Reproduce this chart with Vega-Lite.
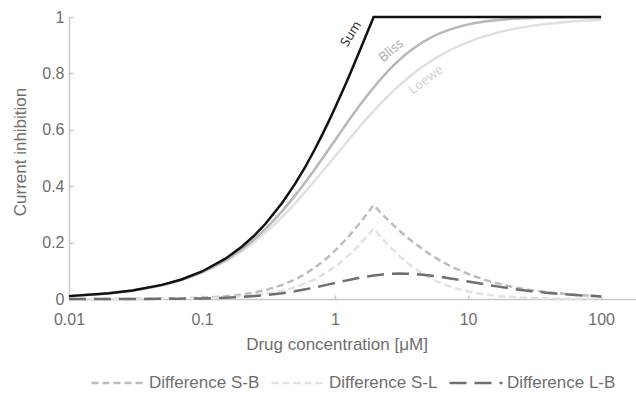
{
  "$schema": "https://vega.github.io/schema/vega-lite/v6.json",
  "width": 567,
  "height": 282,
  "autosize": {"type": "none"},
  "padding": {"left": 69, "top": 17, "right": 0, "bottom": 97},
  "background": "white",
  "config": {
    "view": {"stroke": null},
    "font": "Liberation Sans",
    "axis": {
      "domainColor": "#c8c8c8",
      "domainWidth": 1.5,
      "tickColor": "#c8c8c8",
      "tickWidth": 1.5,
      "tickSize": -4,
      "grid": false,
      "labelFlush": false,
      "labelFontSize": 16,
      "labelColor": "#6e6e6e",
      "titleFontSize": 17,
      "titleColor": "#6e6e6e",
      "titleFontWeight": "normal"
    },
    "legend": {
      "orient": "none",
      "legendX": 21,
      "legendY": 338,
      "direction": "horizontal",
      "symbolType": "stroke",
      "symbolSize": 2809,
      "symbolStrokeWidth": 2.5,
      "labelFontSize": 17,
      "labelColor": "#6e6e6e",
      "labelOffset": 3,
      "columnPadding": 6
    }
  },
  "datasets": {
    "curves": [
      {"series": "Sum", "conc": 0.01, "value": 0.0102},
      {"series": "Sum", "conc": 0.02, "value": 0.0203},
      {"series": "Sum", "conc": 0.03, "value": 0.0303},
      {"series": "Sum", "conc": 0.05, "value": 0.05},
      {"series": "Sum", "conc": 0.07, "value": 0.0693},
      {"series": "Sum", "conc": 0.1, "value": 0.0976},
      {"series": "Sum", "conc": 0.15, "value": 0.1429},
      {"series": "Sum", "conc": 0.2, "value": 0.186},
      {"series": "Sum", "conc": 0.25, "value": 0.2273},
      {"series": "Sum", "conc": 0.3, "value": 0.2667},
      {"series": "Sum", "conc": 0.4, "value": 0.3404},
      {"series": "Sum", "conc": 0.5, "value": 0.4082},
      {"series": "Sum", "conc": 0.6, "value": 0.4706},
      {"series": "Sum", "conc": 0.7, "value": 0.5283},
      {"series": "Sum", "conc": 0.8, "value": 0.5818},
      {"series": "Sum", "conc": 0.9, "value": 0.6316},
      {"series": "Sum", "conc": 1, "value": 0.678},
      {"series": "Sum", "conc": 1.1, "value": 0.7213},
      {"series": "Sum", "conc": 1.2, "value": 0.7619},
      {"series": "Sum", "conc": 1.3, "value": 0.8},
      {"series": "Sum", "conc": 1.4, "value": 0.8358},
      {"series": "Sum", "conc": 1.5, "value": 0.8696},
      {"series": "Sum", "conc": 1.6, "value": 0.9014},
      {"series": "Sum", "conc": 1.7, "value": 0.9315},
      {"series": "Sum", "conc": 1.8, "value": 0.96},
      {"series": "Sum", "conc": 1.85, "value": 0.9737},
      {"series": "Sum", "conc": 1.95, "value": 1},
      {"series": "Sum", "conc": 10, "value": 1},
      {"series": "Sum", "conc": 100, "value": 1},
      {"series": "Bliss", "conc": 0.01, "value": 0.0102},
      {"series": "Bliss", "conc": 0.02, "value": 0.0202},
      {"series": "Bliss", "conc": 0.03, "value": 0.0301},
      {"series": "Bliss", "conc": 0.05, "value": 0.0494},
      {"series": "Bliss", "conc": 0.07, "value": 0.0681},
      {"series": "Bliss", "conc": 0.1, "value": 0.0952},
      {"series": "Bliss", "conc": 0.15, "value": 0.1378},
      {"series": "Bliss", "conc": 0.2, "value": 0.1774},
      {"series": "Bliss", "conc": 0.3, "value": 0.2489},
      {"series": "Bliss", "conc": 0.4, "value": 0.3115},
      {"series": "Bliss", "conc": 0.5, "value": 0.3665},
      {"series": "Bliss", "conc": 0.7, "value": 0.4585},
      {"series": "Bliss", "conc": 1, "value": 0.5631},
      {"series": "Bliss", "conc": 1.2, "value": 0.6168},
      {"series": "Bliss", "conc": 1.4, "value": 0.6612},
      {"series": "Bliss", "conc": 1.6, "value": 0.6983},
      {"series": "Bliss", "conc": 1.8, "value": 0.7296},
      {"series": "Bliss", "conc": 1.95, "value": 0.75},
      {"series": "Bliss", "conc": 2.2, "value": 0.7792},
      {"series": "Bliss", "conc": 2.5, "value": 0.808},
      {"series": "Bliss", "conc": 3, "value": 0.8448},
      {"series": "Bliss", "conc": 3.5, "value": 0.872},
      {"series": "Bliss", "conc": 4, "value": 0.8926},
      {"series": "Bliss", "conc": 5, "value": 0.9213},
      {"series": "Bliss", "conc": 6, "value": 0.9398},
      {"series": "Bliss", "conc": 7, "value": 0.9525},
      {"series": "Bliss", "conc": 8, "value": 0.9616},
      {"series": "Bliss", "conc": 10, "value": 0.9734},
      {"series": "Bliss", "conc": 13, "value": 0.983},
      {"series": "Bliss", "conc": 16, "value": 0.9882},
      {"series": "Bliss", "conc": 20, "value": 0.9921},
      {"series": "Bliss", "conc": 25, "value": 0.9948},
      {"series": "Bliss", "conc": 30, "value": 0.9963},
      {"series": "Bliss", "conc": 40, "value": 0.9978},
      {"series": "Bliss", "conc": 50, "value": 0.9986},
      {"series": "Bliss", "conc": 60, "value": 0.999},
      {"series": "Bliss", "conc": 80, "value": 0.9994},
      {"series": "Bliss", "conc": 100, "value": 0.9996},
      {"series": "Loewe", "conc": 0.01, "value": 0.0102},
      {"series": "Loewe", "conc": 0.02, "value": 0.0201},
      {"series": "Loewe", "conc": 0.03, "value": 0.0299},
      {"series": "Loewe", "conc": 0.05, "value": 0.0488},
      {"series": "Loewe", "conc": 0.07, "value": 0.067},
      {"series": "Loewe", "conc": 0.1, "value": 0.093},
      {"series": "Loewe", "conc": 0.15, "value": 0.1333},
      {"series": "Loewe", "conc": 0.2, "value": 0.1702},
      {"series": "Loewe", "conc": 0.3, "value": 0.2353},
      {"series": "Loewe", "conc": 0.4, "value": 0.2909},
      {"series": "Loewe", "conc": 0.5, "value": 0.339},
      {"series": "Loewe", "conc": 0.7, "value": 0.4179},
      {"series": "Loewe", "conc": 1, "value": 0.5063},
      {"series": "Loewe", "conc": 1.2, "value": 0.5517},
      {"series": "Loewe", "conc": 1.4, "value": 0.5895},
      {"series": "Loewe", "conc": 1.6, "value": 0.6214},
      {"series": "Loewe", "conc": 1.8, "value": 0.6486},
      {"series": "Loewe", "conc": 1.95, "value": 0.6667},
      {"series": "Loewe", "conc": 2.2, "value": 0.6929},
      {"series": "Loewe", "conc": 2.5, "value": 0.7194},
      {"series": "Loewe", "conc": 3, "value": 0.7547},
      {"series": "Loewe", "conc": 3.5, "value": 0.7821},
      {"series": "Loewe", "conc": 4, "value": 0.804},
      {"series": "Loewe", "conc": 5, "value": 0.8368},
      {"series": "Loewe", "conc": 6, "value": 0.8602},
      {"series": "Loewe", "conc": 7, "value": 0.8777},
      {"series": "Loewe", "conc": 8, "value": 0.8914},
      {"series": "Loewe", "conc": 10, "value": 0.9112},
      {"series": "Loewe", "conc": 13, "value": 0.9302},
      {"series": "Loewe", "conc": 16, "value": 0.9426},
      {"series": "Loewe", "conc": 20, "value": 0.9535},
      {"series": "Loewe", "conc": 25, "value": 0.9625},
      {"series": "Loewe", "conc": 30, "value": 0.9685},
      {"series": "Loewe", "conc": 40, "value": 0.9762},
      {"series": "Loewe", "conc": 50, "value": 0.9809},
      {"series": "Loewe", "conc": 60, "value": 0.984},
      {"series": "Loewe", "conc": 80, "value": 0.988},
      {"series": "Loewe", "conc": 100, "value": 0.9903}
    ],
    "diffs": [
      {"series": "Difference S-B", "conc": 0.01, "value": 0.0001},
      {"series": "Difference S-B", "conc": 0.02, "value": 0.0002},
      {"series": "Difference S-B", "conc": 0.03, "value": 0.0005},
      {"series": "Difference S-B", "conc": 0.05, "value": 0.0012},
      {"series": "Difference S-B", "conc": 0.07, "value": 0.0023},
      {"series": "Difference S-B", "conc": 0.1, "value": 0.0045},
      {"series": "Difference S-B", "conc": 0.15, "value": 0.0095},
      {"series": "Difference S-B", "conc": 0.2, "value": 0.0158},
      {"series": "Difference S-B", "conc": 0.25, "value": 0.0232},
      {"series": "Difference S-B", "conc": 0.3, "value": 0.0314},
      {"series": "Difference S-B", "conc": 0.4, "value": 0.0495},
      {"series": "Difference S-B", "conc": 0.5, "value": 0.0692},
      {"series": "Difference S-B", "conc": 0.6, "value": 0.0896},
      {"series": "Difference S-B", "conc": 0.7, "value": 0.1104},
      {"series": "Difference S-B", "conc": 0.8, "value": 0.1311},
      {"series": "Difference S-B", "conc": 0.9, "value": 0.1516},
      {"series": "Difference S-B", "conc": 1, "value": 0.1716},
      {"series": "Difference S-B", "conc": 1.1, "value": 0.1912},
      {"series": "Difference S-B", "conc": 1.2, "value": 0.2102},
      {"series": "Difference S-B", "conc": 1.3, "value": 0.2286},
      {"series": "Difference S-B", "conc": 1.4, "value": 0.2463},
      {"series": "Difference S-B", "conc": 1.5, "value": 0.2635},
      {"series": "Difference S-B", "conc": 1.6, "value": 0.28},
      {"series": "Difference S-B", "conc": 1.7, "value": 0.296},
      {"series": "Difference S-B", "conc": 1.8, "value": 0.3114},
      {"series": "Difference S-B", "conc": 1.85, "value": 0.3188},
      {"series": "Difference S-B", "conc": 1.95, "value": 0.3333},
      {"series": "Difference S-B", "conc": 2.05, "value": 0.3223},
      {"series": "Difference S-B", "conc": 2.2, "value": 0.3071},
      {"series": "Difference S-B", "conc": 2.35, "value": 0.2932},
      {"series": "Difference S-B", "conc": 2.5, "value": 0.2806},
      {"series": "Difference S-B", "conc": 2.75, "value": 0.2617},
      {"series": "Difference S-B", "conc": 3, "value": 0.2453},
      {"series": "Difference S-B", "conc": 3.5, "value": 0.2179},
      {"series": "Difference S-B", "conc": 4, "value": 0.196},
      {"series": "Difference S-B", "conc": 5, "value": 0.1632},
      {"series": "Difference S-B", "conc": 6, "value": 0.1398},
      {"series": "Difference S-B", "conc": 7, "value": 0.1223},
      {"series": "Difference S-B", "conc": 8, "value": 0.1086},
      {"series": "Difference S-B", "conc": 10, "value": 0.0888},
      {"series": "Difference S-B", "conc": 13, "value": 0.0698},
      {"series": "Difference S-B", "conc": 16, "value": 0.0574},
      {"series": "Difference S-B", "conc": 20, "value": 0.0465},
      {"series": "Difference S-B", "conc": 25, "value": 0.0375},
      {"series": "Difference S-B", "conc": 30, "value": 0.0315},
      {"series": "Difference S-B", "conc": 40, "value": 0.0238},
      {"series": "Difference S-B", "conc": 50, "value": 0.0191},
      {"series": "Difference S-B", "conc": 60, "value": 0.016},
      {"series": "Difference S-B", "conc": 80, "value": 0.012},
      {"series": "Difference S-B", "conc": 100, "value": 0.0097},
      {"series": "Difference S-L", "conc": 0.01, "value": 0},
      {"series": "Difference S-L", "conc": 0.02, "value": 0.0001},
      {"series": "Difference S-L", "conc": 0.03, "value": 0.0002},
      {"series": "Difference S-L", "conc": 0.05, "value": 0.0006},
      {"series": "Difference S-L", "conc": 0.07, "value": 0.0012},
      {"series": "Difference S-L", "conc": 0.1, "value": 0.0024},
      {"series": "Difference S-L", "conc": 0.15, "value": 0.0051},
      {"series": "Difference S-L", "conc": 0.2, "value": 0.0087},
      {"series": "Difference S-L", "conc": 0.25, "value": 0.0129},
      {"series": "Difference S-L", "conc": 0.3, "value": 0.0178},
      {"series": "Difference S-L", "conc": 0.4, "value": 0.029},
      {"series": "Difference S-L", "conc": 0.5, "value": 0.0416},
      {"series": "Difference S-L", "conc": 0.6, "value": 0.0554},
      {"series": "Difference S-L", "conc": 0.7, "value": 0.0698},
      {"series": "Difference S-L", "conc": 0.8, "value": 0.0846},
      {"series": "Difference S-L", "conc": 0.9, "value": 0.0997},
      {"series": "Difference S-L", "conc": 1, "value": 0.1149},
      {"series": "Difference S-L", "conc": 1.1, "value": 0.1301},
      {"series": "Difference S-L", "conc": 1.2, "value": 0.1451},
      {"series": "Difference S-L", "conc": 1.3, "value": 0.16},
      {"series": "Difference S-L", "conc": 1.4, "value": 0.1746},
      {"series": "Difference S-L", "conc": 1.5, "value": 0.189},
      {"series": "Difference S-L", "conc": 1.6, "value": 0.2031},
      {"series": "Difference S-L", "conc": 1.7, "value": 0.2169},
      {"series": "Difference S-L", "conc": 1.8, "value": 0.2304},
      {"series": "Difference S-L", "conc": 1.85, "value": 0.237},
      {"series": "Difference S-L", "conc": 1.95, "value": 0.25},
      {"series": "Difference S-L", "conc": 2.05, "value": 0.2377},
      {"series": "Difference S-L", "conc": 2.2, "value": 0.2208},
      {"series": "Difference S-L", "conc": 2.35, "value": 0.2057},
      {"series": "Difference S-L", "conc": 2.5, "value": 0.192},
      {"series": "Difference S-L", "conc": 2.75, "value": 0.1721},
      {"series": "Difference S-L", "conc": 3, "value": 0.1552},
      {"series": "Difference S-L", "conc": 3.5, "value": 0.128},
      {"series": "Difference S-L", "conc": 4, "value": 0.1074},
      {"series": "Difference S-L", "conc": 5, "value": 0.0787},
      {"series": "Difference S-L", "conc": 6, "value": 0.0602},
      {"series": "Difference S-L", "conc": 7, "value": 0.0475},
      {"series": "Difference S-L", "conc": 8, "value": 0.0384},
      {"series": "Difference S-L", "conc": 10, "value": 0.0266},
      {"series": "Difference S-L", "conc": 13, "value": 0.017},
      {"series": "Difference S-L", "conc": 16, "value": 0.0118},
      {"series": "Difference S-L", "conc": 20, "value": 0.0079},
      {"series": "Difference S-L", "conc": 25, "value": 0.0052},
      {"series": "Difference S-L", "conc": 30, "value": 0.0037},
      {"series": "Difference S-L", "conc": 40, "value": 0.0022},
      {"series": "Difference S-L", "conc": 50, "value": 0.0014},
      {"series": "Difference S-L", "conc": 60, "value": 0.001},
      {"series": "Difference S-L", "conc": 80, "value": 0.0006},
      {"series": "Difference S-L", "conc": 100, "value": 0.0004},
      {"series": "Difference L-B", "conc": 0.01, "value": 0},
      {"series": "Difference L-B", "conc": 0.02, "value": 0.0001},
      {"series": "Difference L-B", "conc": 0.03, "value": 0.0002},
      {"series": "Difference L-B", "conc": 0.05, "value": 0.0006},
      {"series": "Difference L-B", "conc": 0.07, "value": 0.0011},
      {"series": "Difference L-B", "conc": 0.1, "value": 0.0022},
      {"series": "Difference L-B", "conc": 0.15, "value": 0.0044},
      {"series": "Difference L-B", "conc": 0.2, "value": 0.0072},
      {"series": "Difference L-B", "conc": 0.25, "value": 0.0103},
      {"series": "Difference L-B", "conc": 0.3, "value": 0.0136},
      {"series": "Difference L-B", "conc": 0.4, "value": 0.0205},
      {"series": "Difference L-B", "conc": 0.5, "value": 0.0275},
      {"series": "Difference L-B", "conc": 0.6, "value": 0.0343},
      {"series": "Difference L-B", "conc": 0.7, "value": 0.0406},
      {"series": "Difference L-B", "conc": 0.8, "value": 0.0465},
      {"series": "Difference L-B", "conc": 0.9, "value": 0.0519},
      {"series": "Difference L-B", "conc": 1, "value": 0.0567},
      {"series": "Difference L-B", "conc": 1.1, "value": 0.0611},
      {"series": "Difference L-B", "conc": 1.2, "value": 0.0651},
      {"series": "Difference L-B", "conc": 1.3, "value": 0.0686},
      {"series": "Difference L-B", "conc": 1.4, "value": 0.0717},
      {"series": "Difference L-B", "conc": 1.5, "value": 0.0745},
      {"series": "Difference L-B", "conc": 1.6, "value": 0.0769},
      {"series": "Difference L-B", "conc": 1.7, "value": 0.0791},
      {"series": "Difference L-B", "conc": 1.8, "value": 0.081},
      {"series": "Difference L-B", "conc": 1.95, "value": 0.0833},
      {"series": "Difference L-B", "conc": 2.2, "value": 0.0863},
      {"series": "Difference L-B", "conc": 2.5, "value": 0.0886},
      {"series": "Difference L-B", "conc": 2.75, "value": 0.0896},
      {"series": "Difference L-B", "conc": 3, "value": 0.0901},
      {"series": "Difference L-B", "conc": 3.5, "value": 0.0899},
      {"series": "Difference L-B", "conc": 4, "value": 0.0886},
      {"series": "Difference L-B", "conc": 5, "value": 0.0845},
      {"series": "Difference L-B", "conc": 6, "value": 0.0796},
      {"series": "Difference L-B", "conc": 7, "value": 0.0748},
      {"series": "Difference L-B", "conc": 8, "value": 0.0702},
      {"series": "Difference L-B", "conc": 10, "value": 0.0622},
      {"series": "Difference L-B", "conc": 13, "value": 0.0528},
      {"series": "Difference L-B", "conc": 16, "value": 0.0456},
      {"series": "Difference L-B", "conc": 20, "value": 0.0386},
      {"series": "Difference L-B", "conc": 25, "value": 0.0323},
      {"series": "Difference L-B", "conc": 30, "value": 0.0278},
      {"series": "Difference L-B", "conc": 40, "value": 0.0216},
      {"series": "Difference L-B", "conc": 50, "value": 0.0177},
      {"series": "Difference L-B", "conc": 60, "value": 0.015},
      {"series": "Difference L-B", "conc": 80, "value": 0.0115},
      {"series": "Difference L-B", "conc": 100, "value": 0.0093}
    ],
    "labels": [
      {"label": "Sum", "conc": 1.32, "value": 0.94},
      {"label": "Bliss", "conc": 2.64, "value": 0.881},
      {"label": "Loewe", "conc": 4.83, "value": 0.777}
    ]
  },
  "encoding": {
    "x": {
      "field": "conc",
      "type": "quantitative",
      "scale": {"type": "log", "domain": [0.01, 183], "nice": false},
      "axis": {
        "values": [0.01, 0.1, 1, 10, 100],
        "format": "~g",
        "labelPadding": 16.5,
        "title": "Drug concentration [μM]",
        "titleX": 267.5,
        "titleY": 50,
        "titleAlign": "center",
        "titleBaseline": "alphabetic"
      }
    },
    "y": {
      "field": "value",
      "type": "quantitative",
      "scale": {"domain": [0, 1], "nice": false},
      "axis": {
        "values": [0, 0.2, 0.4, 0.6, 0.8, 1],
        "format": "~g",
        "labelPadding": 9,
        "title": "Current inhibition",
        "titleX": -44,
        "titleY": 134.5,
        "titleAngle": -90,
        "titleAlign": "center",
        "titleBaseline": "alphabetic"
      }
    }
  },
  "layer": [
    {
      "data": {"name": "diffs"},
      "mark": {"type": "line", "strokeWidth": 2.5},
      "encoding": {
        "stroke": {
          "field": "series",
          "type": "nominal",
          "scale": {
            "domain": ["Difference S-B", "Difference S-L", "Difference L-B"],
            "range": ["#bdbdbd", "#e2e2e2", "#6f6f6f"]
          },
          "legend": {"title": null}
        },
        "strokeDash": {
          "field": "series",
          "type": "nominal",
          "scale": {
            "domain": ["Difference S-B", "Difference S-L", "Difference L-B"],
            "range": [[7, 4], [7, 4], [17, 8]]
          },
          "legend": {"title": null}
        }
      }
    },
    {
      "data": {"name": "curves"},
      "transform": [{"filter": "datum.series === 'Loewe'"}],
      "mark": {"type": "line", "stroke": "#e0e0e0", "strokeWidth": 2.5, "interpolate": "monotone"},
      "encoding": {}
    },
    {
      "data": {"name": "curves"},
      "transform": [{"filter": "datum.series === 'Bliss'"}],
      "mark": {"type": "line", "stroke": "#b8b8b8", "strokeWidth": 2.5, "interpolate": "monotone"},
      "encoding": {}
    },
    {
      "data": {"name": "curves"},
      "transform": [{"filter": "datum.series === 'Sum'"}],
      "mark": {"type": "line", "stroke": "#111111", "strokeWidth": 2.5},
      "encoding": {}
    },
    {
      "data": {"name": "labels"},
      "transform": [{"filter": "datum.label === 'Sum'"}],
      "mark": {"type": "text", "angle": -58, "font": "Open Sans", "fontSize": 13, "color": "#1a1a1a", "align": "center", "baseline": "middle"},
      "encoding": {"text": {"field": "label"}}
    },
    {
      "data": {"name": "labels"},
      "transform": [{"filter": "datum.label === 'Bliss'"}],
      "mark": {"type": "text", "angle": -40, "font": "Open Sans", "fontSize": 13, "color": "#a8a8a8", "align": "center", "baseline": "middle"},
      "encoding": {"text": {"field": "label"}}
    },
    {
      "data": {"name": "labels"},
      "transform": [{"filter": "datum.label === 'Loewe'"}],
      "mark": {"type": "text", "angle": -36, "font": "Open Sans", "fontSize": 13, "color": "#d2d2d2", "align": "center", "baseline": "middle"},
      "encoding": {"text": {"field": "label"}}
    }
  ]
}
